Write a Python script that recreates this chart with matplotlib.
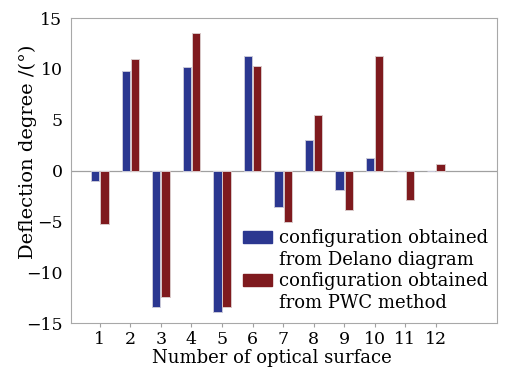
import numpy as np
import matplotlib.pyplot as plt
from matplotlib.patches import Rectangle

# data
surfaces = [1, 2, 3, 4, 5, 6, 7, 8, 9, 10, 11, 12]
delano = [-1.0, 9.8, -13.4, 10.2, -13.9, 11.3, -3.6, 3.0, -1.9, 1.2, 0.0, 0.0]
pwc = [-5.3, 11.0, -12.4, 13.5, -13.4, 10.3, -5.1, 5.5, -3.9, 11.3, -2.9, 0.6]

lbl_delano = ['configuration obtained', 'from Delano diagram']
lbl_pwc = ['configuration obtained', 'from PWC method']

BLUE = '#2b3790'
RED = '#7f1a1e'

plt.rcParams['font.family'] = 'DejaVu Serif'
plt.rcParams['mathtext.fontset'] = 'dejavuserif'

fig = plt.figure(figsize=(5.06, 3.70), dpi=100)
ax = fig.add_axes([0.140, 0.127, 0.842, 0.824])

x = np.array(surfaces)
w = 0.27
ax.bar(x - 0.15, delano, w, color=BLUE, edgecolor='#c8c8d8', linewidth=0.7)
ax.bar(x + 0.15, pwc, w, color=RED, edgecolor='#d8c8c8', linewidth=0.7)

ax.axhline(0, color='#a0a0a0', linewidth=0.9, zorder=0)

ax.set_xlim(0.05, 14.0)
ax.set_ylim(-15, 15)
ax.set_yticks([-15, -10, -5, 0, 5, 10, 15])
ax.set_xticks(surfaces)
ax.tick_params(axis='x', length=3, color='#a0a0a0', labelsize=12.5, pad=3)
ax.tick_params(axis='y', length=0, labelsize=12.5, pad=6)

for s in ax.spines.values():
    s.set_color('#a8a8a8')
    s.set_linewidth(0.8)

ax.set_xlabel('Number of optical surface', fontsize=13)
ax.xaxis.set_label_coords(0.473, -0.085)
ax.set_ylabel('Deflection degree /(°)', fontsize=14)
ax.yaxis.set_label_coords(-0.079, 0.56)

# legend: handle sits on the first line of each two-line label
blank = Rectangle((0, 0), 1, 1, alpha=0)
handles = [Rectangle((0, 0), 1, 1, color=BLUE), blank,
           Rectangle((0, 0), 1, 1, color=RED), blank]
labels = [lbl_delano[0], lbl_delano[1], lbl_pwc[0], lbl_pwc[1]]
leg = ax.legend(handles, labels, loc='upper left',
                bbox_to_anchor=(243 / 506, (370 - 229) / 370),
                bbox_transform=fig.transFigure,
                frameon=False, fontsize=13, handlelength=1.6, handleheight=0.65,
                handletextpad=0.4, labelspacing=0.2, borderpad=0, borderaxespad=0)

plt.savefig('out.png', dpi=100)
